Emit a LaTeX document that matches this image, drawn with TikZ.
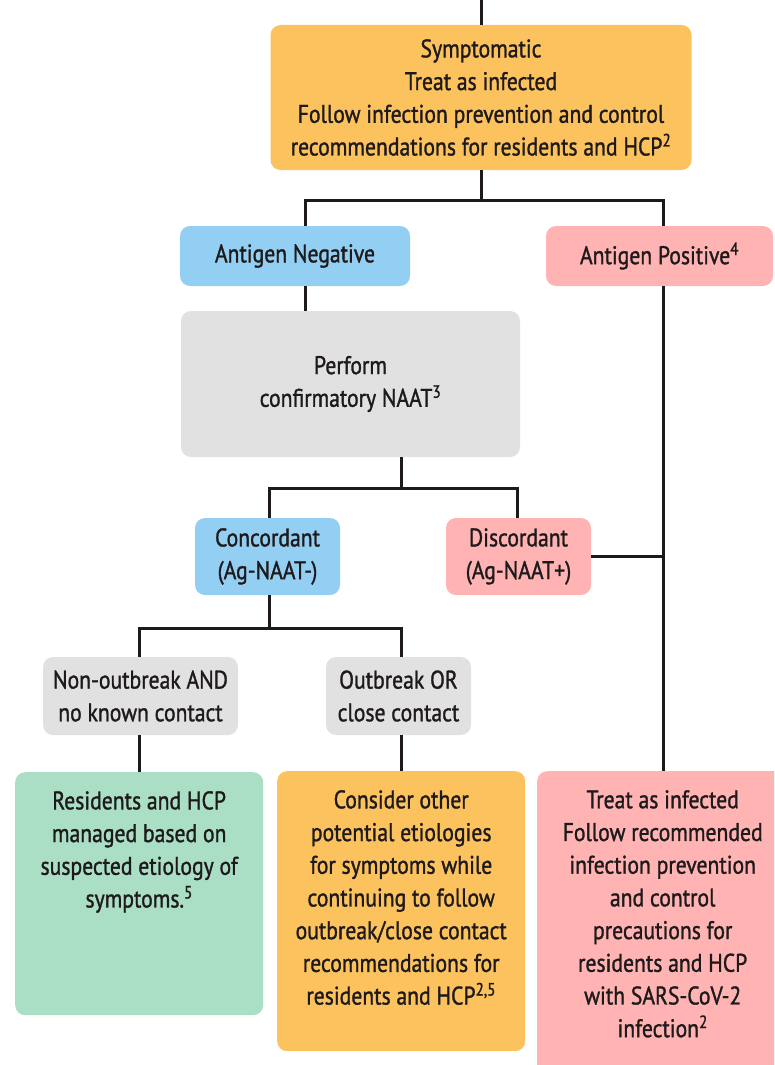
\documentclass[tikz,border=0pt]{standalone}
\usepackage{fontspec}
\setmainfont[FakeStretch=0.85,FakeBold=1.2]{PT Sans}
\usetikzlibrary{calc}
\definecolor{orng}{HTML}{FBC25E}
\definecolor{blu}{HTML}{92CFF3}
\definecolor{pnk}{HTML}{FFB3B3}
\definecolor{gry}{HTML}{E1E1E1}
\definecolor{grn}{HTML}{AADFC6}
\definecolor{ink}{HTML}{1E1A1B}
\newcommand\tbox[4]{\parbox[t][#1][t]{#2}{\centering\vspace*{#3}#4\par}}
\begin{document}
\begin{tikzpicture}[x=1pt,y=-1pt,
  box/.style={rectangle, rounded corners=10pt, inner sep=0pt, align=center, text=ink,
              font=\fontsize{25.5}{32.7}\selectfont},
  ln/.style={line width=3pt, draw=ink}]
\useasboundingbox (0,0) rectangle (774,1065);
% boxes
\node[box, fill=orng, minimum width=421pt, minimum height=145pt] (sym) at (481,97.5)
  {Symptomatic\\Treat as infected\\Follow infection prevention and control\\recommendations for residents and HCP\textsuperscript{2}};
\node[box, fill=blu, minimum width=230pt, minimum height=60pt] (an) at (295,256) {Antigen Negative};
\node[box, fill=pnk, minimum width=227pt, minimum height=60pt] (ap) at (659.5,256) {Antigen Positive\textsuperscript{4}};
\node[box, fill=gry, minimum width=339pt, minimum height=146pt] (perf) at (350.5,384) {Perform\\confirmatory NAAT\textsuperscript{3}};
\node[box, fill=blu, minimum width=145pt, minimum height=77pt] (conc) at (267.5,556.5) {Concordant\\(Ag-NAAT-)};
\node[box, fill=pnk, minimum width=145pt, minimum height=77pt] (disc) at (518.5,556.5) {Discordant\\(Ag-NAAT+)};
\node[box, fill=gry, minimum width=195pt, minimum height=78pt] (non) at (140.5,696) {Non-outbreak AND\\no known contact};
\node[box, fill=gry, minimum width=145pt, minimum height=78pt] (out) at (398.5,696) {Outbreak OR\\close contact};
\node[box, fill=grn, anchor=north west] (res) at (15,772)
  {\tbox{243pt}{248pt}{19pt}{Residents and HCP\\managed based on\\suspected etiology of\\symptoms.\textsuperscript{5}}};
\node[box, fill=orng, anchor=north west] (cons) at (277,771)
  {\tbox{280pt}{248pt}{19pt}{Consider other\\potential etiologies\\for symptoms while\\continuing to follow\\outbreak/close contact\\recommendations for\\residents and HCP\textsuperscript{2,5}}};
\begin{scope}
\clip (0,0) rectangle (774,1065);
\node[box, fill=pnk, anchor=north west] (tr) at (537,771)
  {\tbox{310pt}{251pt}{19pt}{Treat as infected\\Follow recommended\\infection prevention\\and control\\precautions for\\residents and HCP\\with SARS-CoV-2\\infection\textsuperscript{2}}};
\end{scope}
% junctions
\coordinate (top) at (481,0);
\coordinate (j1) at (481,200);
\coordinate (jl) at (305,200);
\coordinate (jr) at (663,200);
\coordinate (j2) at (401,488);
\coordinate (j2l) at (269,488);
\coordinate (j2r) at (517,488);
\coordinate (j3) at (269,628);
\coordinate (j3l) at (139,628);
\coordinate (j3r) at (401,628);
% connectors
\draw[ln] (top) -- (sym.north);
\draw[ln] (sym.south) -- (j1);
\draw[ln] (jl |- an.north) -- (jl) -- (jr) -- (jr |- ap.north);
\draw[ln] (jl |- an.south) -- (jl |- perf.north);
\draw[ln] (j2 |- perf.south) -- (j2);
\draw[ln] (j2l |- conc.north) -- (j2l) -- (j2r) -- (j2r |- disc.north);
\draw[ln] (jr |- ap.south) -- (jr |- tr.north);
\draw[ln] (disc.east) -- (disc.east -| jr);
\draw[ln] (j3 |- conc.south) -- (j3);
\draw[ln] (j3l |- non.north) -- (j3l) -- (j3r) -- (j3r |- out.north);
\draw[ln] (j3l |- non.south) -- (j3l |- res.north);
\draw[ln] (j3r |- out.south) -- (j3r |- cons.north);
\end{tikzpicture}
\end{document}
